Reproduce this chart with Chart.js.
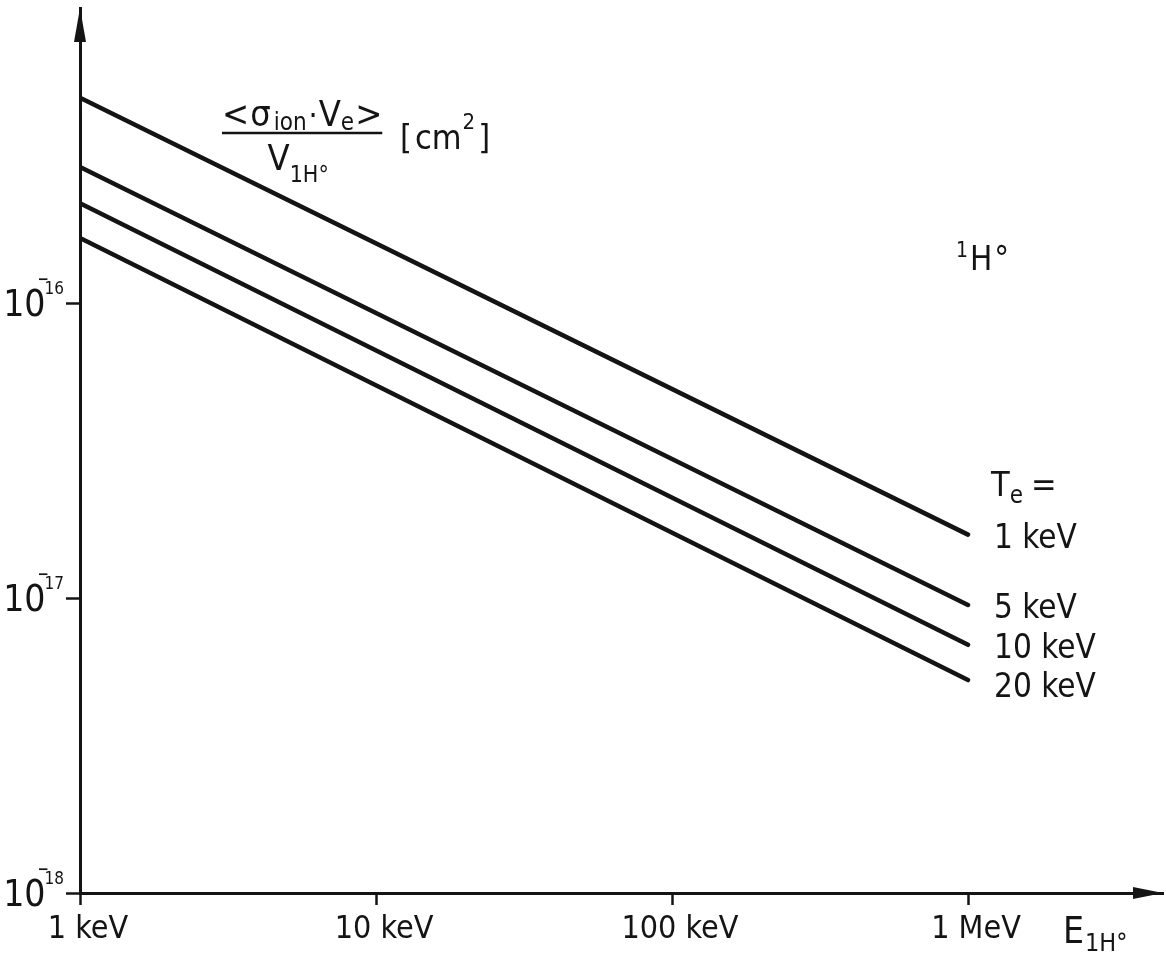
<!DOCTYPE html>
<html>
<head>
<meta charset="utf-8">
<script src="https://cdn.jsdelivr.net/npm/chart.js@4/dist/chart.umd.min.js"></script>
<style>
  html, body { margin: 0; padding: 0; background: #ffffff; }
  #wrap { width: 1166px; height: 958px; position: relative; }
</style>
</head>
<body>
<div id="wrap"><canvas id="c" width="1166" height="958"></canvas></div>
<script>
// ---- data ----
const energyKeV = [1, 1000];                       // beam energy E_1H° [keV]
const seriesLabels = ['1 keV', '5 keV', '10 keV', '20 keV'];   // electron temperature T_e
const series_Te1  = [4.96e-16, 1.64e-17];
const series_Te5  = [2.89e-16, 9.47e-18];
const series_Te10 = [2.18e-16, 6.94e-18];
const series_Te20 = [1.66e-16, 5.27e-18];
const xTickValues = [1, 10, 100, 1000];
const xTickLabels = ['1 keV', '10 keV', '100 keV', '1 MeV'];
const yTickValues = [1e-18, 1e-17, 1e-16];
const yTickMantissa = ['10', '10', '10'];
const yTickExponents = ['18', '17', '16'];   // shown as 10^-18 ... 10^-16

const FONT = "'DejaVu Sans Condensed', 'Liberation Sans Narrow', sans-serif";
const INK = '#141414';

const allSeries = [series_Te1, series_Te5, series_Te10, series_Te20];
const datasets = allSeries.map((s, i) => ({
  label: seriesLabels[i],
  data: energyKeV.map((e, j) => ({ x: e, y: s[j] })),
  borderColor: INK,
  borderWidth: 4.5,
  borderCapStyle: 'round',
  pointRadius: 0,
  fill: false,
  tension: 0
}));

function drawRuns(ctx, x, baseline, runs) {
  let cx = x;
  for (const r of runs) {
    ctx.font = (r.size) + 'px ' + FONT;
    ctx.fillText(r.t, cx, baseline + (r.dy || 0));
    cx += ctx.measureText(r.t).width + (r.gap || 0);
  }
  return cx;
}
function runsWidth(ctx, runs) {
  let w = 0;
  for (const r of runs) { ctx.font = r.size + 'px ' + FONT; w += ctx.measureText(r.t).width + (r.gap || 0); }
  return w;
}

const annotations = {
  id: 'annotations',
  afterDraw(chart) {
    const ctx = chart.ctx;
    const ca = chart.chartArea;
    const xs = chart.scales.x, ys = chart.scales.y;
    ctx.save();
    ctx.fillStyle = INK;
    ctx.strokeStyle = INK;
    // arrow heads on the axes
    ctx.beginPath();
    ctx.moveTo(ca.left, ca.top);
    ctx.lineTo(ca.left - 6, ca.top + 34);
    ctx.lineTo(ca.left + 6, ca.top + 34);
    ctx.closePath();
    ctx.fill();
    ctx.beginPath();
    ctx.moveTo(ca.right, ca.bottom);
    ctx.lineTo(ca.right - 30, ca.bottom - 6);
    ctx.lineTo(ca.right - 30, ca.bottom + 6);
    ctx.closePath();
    ctx.fill();

    ctx.textBaseline = 'alphabetic';
    ctx.textAlign = 'left';

    // y tick labels 10^-n, placed at the scale's tick positions
    yTickValues.forEach((v, i) => {
      const py = ys.getPixelForValue(v);
      ctx.font = '37px ' + FONT;
      const mw = ctx.measureText(yTickMantissa[i]).width;
      ctx.font = '17px ' + FONT;
      const ew = ctx.measureText(yTickExponents[i]).width;
      const right = ca.left - 16;
      const ex = right - ew;
      ctx.font = '37px ' + FONT;
      ctx.fillText(yTickMantissa[i], ex - mw + 1, py + 13);
      ctx.font = '17px ' + FONT;
      ctx.fillText(yTickExponents[i], ex, py - 9);
      ctx.font = 'bold 15px ' + FONT;
      ctx.fillText('−', ex - 7, py - 19);
    });

    // y-quantity formula
    const num = [
      { t: '<', size: 36, gap: 1 }, { t: 'σ', size: 36, gap: 3 },
      { t: 'ion', size: 24, dy: 4, gap: 2 }, { t: '·', size: 32, gap: 1 },
      { t: 'V', size: 36 }, { t: 'e', size: 24, dy: 4, gap: 1 }, { t: '>', size: 36 }
    ];
    const nx = 222;
    const nEnd = drawRuns(ctx, nx, 126, num);
    ctx.lineWidth = 2.5;
    ctx.beginPath(); ctx.moveTo(nx, 133); ctx.lineTo(nEnd, 133); ctx.stroke();
    const den = [{ t: 'V', size: 36 }, { t: '1H°', size: 23, dy: 12 }];
    const dw = runsWidth(ctx, den);
    drawRuns(ctx, (nx + nEnd) / 2 - dw / 2 - 4, 170, den);
    drawRuns(ctx, 400, 149, [{ t: '[', size: 34, gap: 3 }, { t: 'cm', size: 34, gap: 1 }, { t: '2', size: 22, dy: -20, gap: 3 }, { t: ']', size: 34 }]);

    // particle label
    drawRuns(ctx, 956, 270, [{ t: '1', size: 21, dy: -13, gap: 2 }, { t: 'H', size: 33, gap: 2 }, { t: '°', size: 33, dy: 0 }]);

    // x-axis quantity
    drawRuns(ctx, 1063, 943, [{ t: 'E', size: 37, gap: 1 }, { t: '1H°', size: 25, dy: 8 }]);

    // T_e = heading and series labels at line ends
    drawRuns(ctx, 991, 496, [{ t: 'T', size: 34 }, { t: 'e', size: 24, dy: 7, gap: 8 }, { t: '=', size: 34 }]);
    const labelDy = [13, 13, 13, 17];
    allSeries.forEach((s, i) => {
      const px = xs.getPixelForValue(energyKeV[energyKeV.length - 1]);
      const py = ys.getPixelForValue(s[s.length - 1]);
      ctx.font = '33px ' + FONT;
      ctx.fillText(seriesLabels[i], px + 26, py + labelDy[i]);
    });
    ctx.restore();
  }
};

const xMax = Math.pow(10, 1083 / 296);
const yMax = 1e-15;

new Chart(document.getElementById('c'), {
  type: 'line',
  data: { datasets },
  options: {
    responsive: false,
    animation: false,
    devicePixelRatio: 1,
    layout: { padding: { left: 0, right: 3, top: 8, bottom: 0 } },
    plugins: { legend: { display: false }, tooltip: { enabled: false }, title: { display: false } },
    scales: {
      x: {
        type: 'logarithmic',
        min: 1,
        max: xMax,
        afterBuildTicks: (s) => { s.ticks = xTickValues.map(v => ({ value: v })); },
        afterFit: (s) => { s.height = 65; s.paddingLeft = 0; s.paddingRight = 0; },
        border: { display: true, color: INK, width: 3 },
        grid: { display: true, drawOnChartArea: false, drawTicks: true, tickLength: 12, tickWidth: 2.5, tickColor: INK, color: INK },
        ticks: {
          autoSkip: false, maxRotation: 0, padding: 5, labelOffset: 8, color: INK,
          font: { family: FONT, size: 32 },
          callback: (v) => { const i = xTickValues.indexOf(v); return i >= 0 ? xTickLabels[i] : ''; }
        }
      },
      y: {
        type: 'logarithmic',
        min: 1e-18,
        max: yMax,
        afterBuildTicks: (s) => { s.ticks = yTickValues.map(v => ({ value: v })); },
        afterFit: (s) => { s.width = 80; s.paddingTop = 0; s.paddingBottom = 0; },
        border: { display: true, color: INK, width: 3 },
        grid: { display: true, drawOnChartArea: false, drawTicks: true, tickLength: 14, tickWidth: 2.5, tickColor: INK, color: INK },
        ticks: { display: false }
      }
    }
  },
  plugins: [annotations]
});
</script>
</body>
</html>
